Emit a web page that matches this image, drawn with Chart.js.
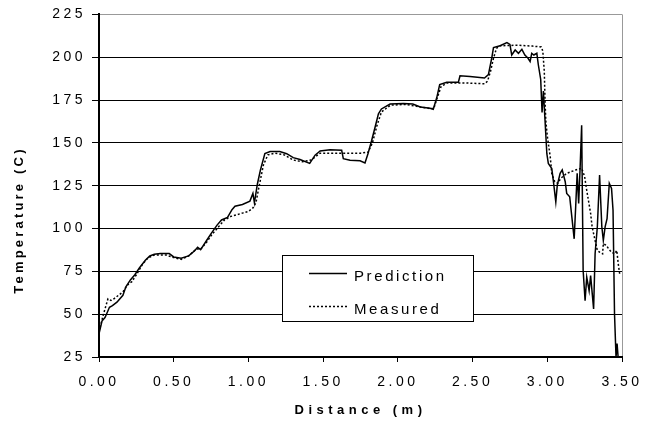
<!DOCTYPE html>
<html>
<head>
<meta charset="utf-8">
<script src="https://cdn.jsdelivr.net/npm/chart.js@4.4.1/dist/chart.umd.min.js"></script>
<style>
	html, body { margin: 0; padding: 0; background: #fff; }
</style>
</head>
<body>
<canvas id="chart" width="653" height="427"></canvas>
<script>
// distance (m) / temperature (C)
var predX = [0.00, 0.02, 0.04, 0.05, 0.07, 0.09, 0.12, 0.16, 0.18, 0.21, 0.24, 0.27, 0.31, 0.34, 0.37, 0.41, 0.47, 0.50, 0.55, 0.60,
	0.64, 0.66, 0.68, 0.72, 0.75, 0.79, 0.82, 0.86, 0.89, 0.91, 0.96, 1.01, 1.03, 1.04, 1.06, 1.08, 1.11, 1.145, 1.21, 1.256,
	1.30, 1.345, 1.41, 1.446, 1.48, 1.546, 1.624, 1.635, 1.68, 1.747, 1.78, 1.80, 1.825, 1.847, 1.87, 1.89, 1.948, 2.037, 2.10, 2.15,
	2.215, 2.237, 2.26, 2.28, 2.327, 2.405, 2.416, 2.483, 2.58, 2.606, 2.628, 2.64, 2.684, 2.73, 2.75, 2.762, 2.785, 2.807, 2.83, 2.85,
	2.87, 2.885, 2.896, 2.91, 2.93, 2.94, 2.956, 2.965, 2.974, 2.985, 2.997, 3.007, 3.03, 3.04, 3.057, 3.067, 3.086, 3.10, 3.12, 3.13,
	3.15, 3.18, 3.19, 3.20, 3.21, 3.22, 3.23, 3.24, 3.253, 3.264, 3.28, 3.29, 3.31, 3.32, 3.335, 3.35, 3.365, 3.375, 3.387, 3.40,
	3.415, 3.43, 3.44, 3.45, 3.46, 3.467, 3.474];
var predY = [38.5, 46, 48, 50, 54, 55, 57, 61, 66, 70, 73, 77, 81.5, 84, 85, 85.4, 85.4, 83.4, 82.6, 84,
	87, 89, 87.7, 93, 97, 102, 105, 106.5, 111, 113, 114, 116, 120.5, 115, 126, 134, 143.7, 145, 145, 143.7,
	141.4, 140.3, 138, 142.8, 145.3, 146, 145.7, 140.8, 139.9, 139.5, 138.3, 143.7, 151.5, 159, 167, 169.8, 172.7, 173, 172.7, 171,
	170.2, 169.6, 176.3, 184, 185.4, 185.4, 189.2, 188.8, 187.9, 189.8, 199.4, 205.6, 206.7, 208.5, 207.5, 201.3, 204.2, 202.3, 204.6, 201.3,
	199.5, 197.5, 202.3, 201.3, 202.3, 195.6, 187, 167.7, 180.2, 163, 143.7, 138, 135, 128.3, 115.6, 125.4, 132.2, 134.2, 127.3, 120.5,
	118.5, 94, 112.7, 132.2, 114.6, 136.2, 160.3, 75.5, 57.8, 71.6, 63.7, 72.5, 53, 85.3, 101, 131.3, 101, 93, 101, 105.8,
	126.4, 123.4, 110.7, 50, 25, 32.8, 25];

var measX = [0.00, 0.03, 0.06, 0.08, 0.10, 0.13, 0.16, 0.19, 0.22, 0.25, 0.29, 0.33, 0.37, 0.45, 0.50, 0.55, 0.60, 0.65, 0.68, 0.72,
	0.76, 0.80, 0.84, 0.88, 0.92, 0.96, 1.00, 1.03, 1.05, 1.07, 1.10, 1.13, 1.18, 1.24, 1.30, 1.36, 1.42, 1.48, 1.55, 1.65,
	1.75, 1.80, 1.83, 1.86, 1.89, 1.95, 2.05, 2.15, 2.22, 2.24, 2.27, 2.29, 2.33, 2.45, 2.58, 2.60, 2.62, 2.64, 2.66, 2.684,
	2.80, 2.90, 2.96, 2.97, 2.98, 2.985, 2.99, 3.00, 3.02, 3.03, 3.05, 3.07, 3.09, 3.13, 3.16, 3.19, 3.23, 3.25, 3.26, 3.275,
	3.29, 3.30, 3.32, 3.335, 3.35, 3.37, 3.375, 3.395, 3.41, 3.43, 3.45, 3.465, 3.475, 3.486];
var measY = [40, 50, 59, 58, 59, 61, 63, 67, 69, 73, 79, 83, 84.5, 84.5, 83, 82, 84, 88, 88, 92,
	97, 101, 105, 107, 108, 109, 110, 112, 115, 124, 137, 143, 144, 143, 140, 139, 140, 144, 144, 144,
	144, 144.5, 150, 160, 168, 172, 172.5, 171, 170, 170, 178, 183, 185, 185, 184.5, 186, 191.7, 199.4, 205.2, 206.7,
	207, 206.5, 206, 203.6, 191.7, 174.4, 163, 154, 141.7, 132, 127.3, 126.4, 129.3, 132.2, 133.2, 134.2, 135.2, 130.3, 124.4, 116.6,
	108.8, 101, 93, 87.2, 86.2, 85.2, 91.1, 90.2, 88.2, 86.2, 85.2, 87.2, 79.4, 72.5];

var seriesNames = ['Prediction', 'Measured'];
var xMin = 0, xMax = 3.5, xStep = 0.5;
var yMin = 25, yMax = 225, yStep = 25;

var FONT = 'Arial, "Liberation Sans", sans-serif';

function points(xs, ys) {
	return xs.map(function (x, i) {
		return {x: x, y: ys[i]};
	});
}

// letter spacing: x title is drawn before the datasets, tick labels after
var spacing = {
	id: 'spacing',
	beforeDraw: function (chart) {
		chart.ctx.letterSpacing = '4.5px';
	},
	afterDatasetsDraw: function (chart) {
		chart.ctx.letterSpacing = '3.5px';
	}
};

// y title sits a bit below the middle of the axis, so it is placed by hand
var yTitle = {
	id: 'yTitle',
	afterDraw: function (chart) {
		var ctx = chart.ctx;
		ctx.save();
		ctx.letterSpacing = '3.2px';
		ctx.font = 'bold 13px ' + FONT;
		ctx.fillStyle = '#000';
		ctx.textAlign = 'center';
		ctx.textBaseline = 'middle';
		ctx.translate(19, 220);
		ctx.rotate(-Math.PI / 2);
		ctx.fillText('Temperature (C)', 0, 0);
		ctx.restore();
	}
};

// boxed legend sitting inside the plot
var boxLegend = {
	id: 'boxLegend',
	afterDraw: function (chart) {
		var ctx = chart.ctx;
		ctx.save();
		ctx.fillStyle = '#fff';
		ctx.fillRect(282, 255, 191, 66);
		ctx.strokeStyle = '#000';
		ctx.lineWidth = 1;
		ctx.strokeRect(282.5, 255.5, 191, 66);
		ctx.letterSpacing = '2.6px';
		ctx.font = '15px ' + FONT;
		ctx.textBaseline = 'middle';
		ctx.fillStyle = '#000';
		chart.data.datasets.forEach(function (ds, i) {
			var y = 273.5 + i * 33;
			ctx.beginPath();
			ctx.setLineDash(ds.borderDash || []);
			ctx.lineWidth = ds.borderWidth;
			ctx.strokeStyle = ds.borderColor;
			ctx.moveTo(309, y);
			ctx.lineTo(347, y);
			ctx.stroke();
			ctx.fillText(ds.label, 354, y + 3);
		});
		ctx.restore();
	}
};

var tickFont = {family: FONT, size: 14};

new Chart(document.getElementById('chart'), {
	type: 'scatter',
	data: {
		datasets: [{
			label: seriesNames[0],
			data: points(predX, predY),
			showLine: true,
			borderColor: '#000',
			borderWidth: 1.5,
			pointRadius: 0,
			tension: 0
		}, {
			label: seriesNames[1],
			data: points(measX, measY),
			showLine: true,
			borderColor: '#000',
			borderWidth: 1.5,
			borderDash: [2, 2],
			pointRadius: 0,
			tension: 0
		}]
	},
	options: {
		responsive: false,
		animation: false,
		events: [],
		layout: {padding: {left: 0, right: 31, top: 14, bottom: 0}},
		plugins: {legend: {display: false}, tooltip: {enabled: false}},
		scales: {
			x: {
				type: 'linear',
				min: xMin,
				max: xMax,
				afterFit: function (s) { s.height = 70; },
				ticks: {
					stepSize: xStep,
					autoSkip: false,
					maxRotation: 0,
					padding: 12,
					z: 1,
					color: '#000',
					font: tickFont,
					callback: function (v) { return v.toFixed(2); }
				},
				grid: {
					color: function (c) { return c.tick && c.tick.value === xMax ? '#999' : 'rgba(0,0,0,0)'; },
					tickColor: '#000',
					tickLength: 5
				},
				border: {color: '#000', width: 2},
				title: {
					display: true,
					text: 'Distance (m)',
					color: '#000',
					font: {family: FONT, size: 13, weight: 'bold'},
					padding: {top: 0, bottom: 9}
				}
			},
			y: {
				min: yMin,
				max: yMax,
				afterFit: function (s) { s.width = 99; },
				ticks: {
					stepSize: yStep,
					padding: 6,
					z: 1,
					color: '#000',
					font: tickFont
				},
				grid: {
					color: function (c) { return c.tick && c.tick.value === yMax ? '#999' : '#000'; },
					tickColor: '#000',
					tickLength: 7
				},
				border: {color: '#000', width: 2}
			}
		}
	},
	plugins: [spacing, yTitle, boxLegend]
});
</script>
</body>
</html>
